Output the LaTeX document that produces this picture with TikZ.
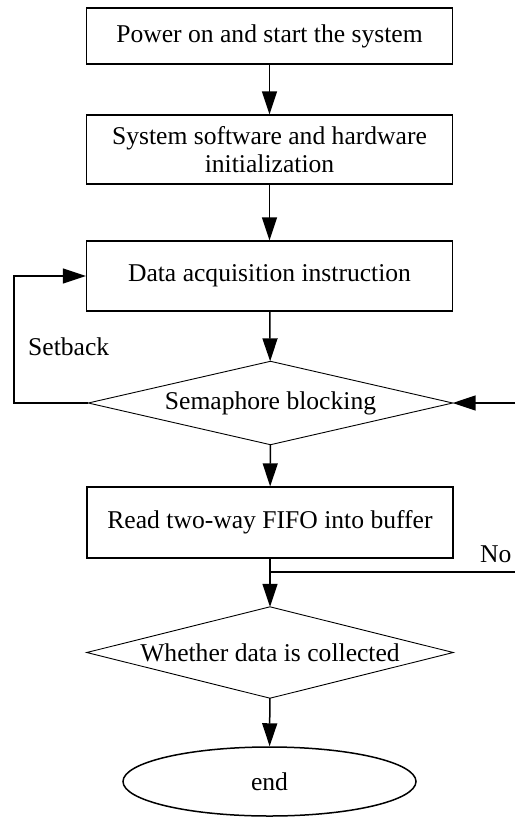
\documentclass[tikz,border=0pt]{standalone}
\usepackage{fontspec}
\setmainfont{Liberation Serif}
\usetikzlibrary{shapes.geometric,arrows.meta}
\begin{document}
\begin{tikzpicture}[x=1pt,y=-1pt,
  every node/.style={font=\fontsize{25.6}{28.5}\selectfont, inner sep=0pt},
  procbox/.style={draw, line width=1.3pt, rectangle, minimum width=366pt, align=center},
  decision/.style={rectangle, minimum width=364pt},
  diamondline/.style={line width=0.9pt, line join=miter},
  terminal/.style={draw, line width=1.5pt, ellipse, minimum width=293pt, minimum height=69pt},
  flow/.style={line width=1.5pt, -{Triangle[length=23pt,width=15pt]}},
  plain/.style={line width=1.5pt}]
\useasboundingbox (0,0) rectangle (515,817);
\node[procbox, minimum height=56pt] (b1) at (269.5,36) {Power on and start the system};
\node[procbox, minimum height=69pt] (b2) at (269.5,149.5) {System software and hardware\\initialization};
\node[procbox, minimum height=70pt] (b3) at (269.5,276) {Data acquisition instruction};
\node[decision, minimum height=83pt] (d1) at (270.5,403) {Semaphore blocking};
\draw[diamondline] (d1.north) -- (d1.east) -- (d1.south) -- (d1.west) -- cycle;
\node[procbox, minimum height=71pt] (b4) at (270,522.5) {Read two-way FIFO into buffer};
\node[decision, minimum width=366pt, minimum height=91pt] (d2) at (270,652.5) {Whether data is collected};
\draw[diamondline] (d2.north) -- (d2.east) -- (d2.south) -- (d2.west) -- cycle;
\node[terminal] (e) at (269.5,781.5) {end};
\node[anchor=base west] (setback) at (28,355) {Setback};
\node[anchor=base west] (no) at (480,562) {No};
\coordinate (lcorner1) at (14,403);
\coordinate (lcorner2) at (14,276);
\coordinate (rin) at (515,403);
\coordinate (junc) at (270,572);
\coordinate (rout) at (515,572);
\draw[flow] (b1) -- (b2);
\draw[flow] (b2) -- (b3);
\draw[flow] (b3) -- (d1);
\draw[flow] (d1) -- (b4);
\draw[flow] (b4) -- (d2);
\draw[flow] (d2) -- (e);
\draw[flow] (d1.west) -- (lcorner1) -- (lcorner2) -- (b3.west);
\draw[flow] (rin) -- (d1.east);
\draw[plain] (junc) -- (rout);
\end{tikzpicture}
\end{document}
